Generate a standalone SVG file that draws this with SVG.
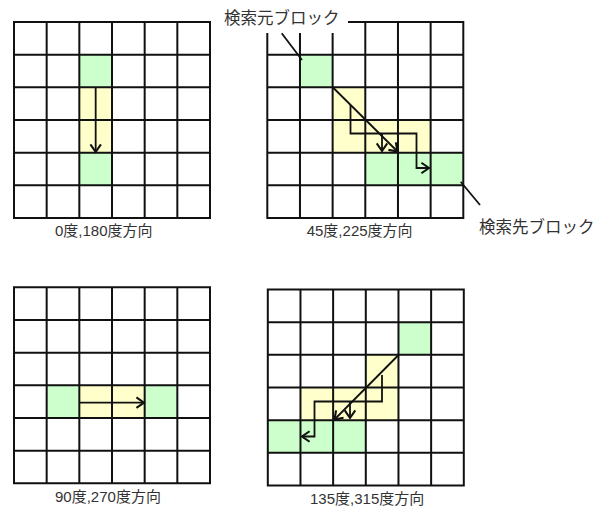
<svg xmlns="http://www.w3.org/2000/svg" width="605" height="518" viewBox="0 0 605 518">
<style>
.grid{fill:none;stroke:#111;stroke-width:2}
.g{fill:#ccffcc}
.y{fill:#ffffcc}
.arr{fill:none;stroke:#111;stroke-width:1.8;marker-end:url(#ah)}
.ptr{fill:none;stroke:#111;stroke-width:1.8}
.cap{font-family:"Liberation Sans","Noto Sans CJK JP",sans-serif;font-size:15px;fill:#333}
.lbl{font-family:"Noto Sans CJK JP","Liberation Sans",sans-serif;font-size:16.5px;fill:#333}
</style>
<defs>
<marker id="ah" markerUnits="userSpaceOnUse" markerWidth="14" markerHeight="14" viewBox="-8 -6 10 12" refX="0" refY="0" orient="auto">
<path d="M-6.5,-4.5 L0,0 L-6.5,4.5" fill="none" stroke="#111" stroke-width="1.8"/>
</marker>
<path id="gridpath" class="grid" d="M0 0H196V196H0Z M32.67 0V196 M65.33 0V196 M98 0V196 M130.67 0V196 M163.33 0V196 M0 32.67H196 M0 65.33H196 M0 98H196 M0 130.67H196 M0 163.33H196"/>
</defs>
<rect width="605" height="518" fill="#fff"/>

<g id="panel-0-180">
<rect class="g" x="79.33" y="54.67" width="32.67" height="32.67"/>
<rect class="y" x="79.33" y="87.33" width="32.67" height="65.33"/>
<rect class="g" x="79.33" y="152.67" width="32.67" height="32.67"/>
<use href="#gridpath" x="14" y="22"/>
<text class="cap" x="55" y="236">0度,180度方向</text>
</g>

<g id="panel-45-225">
<rect class="g" x="300" y="54.67" width="32.67" height="32.67"/>
<rect class="y" x="332.67" y="87.33" width="32.67" height="32.67"/>
<rect class="y" x="332.67" y="120" width="98" height="32.67"/>
<rect class="g" x="365.33" y="152.67" width="98" height="32.67"/>
<use href="#gridpath" x="267.3" y="22"/>
<text class="cap" x="306.7" y="236">45度,225度方向</text>
</g>

<g id="panel-90-270">
<rect class="g" x="46.67" y="385.3" width="32.67" height="32.67"/>
<rect class="y" x="79.33" y="385.3" width="65.33" height="32.67"/>
<rect class="g" x="144.67" y="385.3" width="32.67" height="32.67"/>
<use href="#gridpath" x="14" y="287.3"/>
<text class="cap" x="55" y="502">90度,270度方向</text>
</g>

<g id="panel-135-315">
<rect class="g" x="398.47" y="322.17" width="32.67" height="32.67"/>
<rect class="y" x="365.8" y="354.83" width="32.67" height="32.67"/>
<rect class="y" x="300.47" y="387.5" width="98" height="32.67"/>
<rect class="g" x="267.8" y="420.17" width="98" height="32.67"/>
<use href="#gridpath" x="267.8" y="289.5"/>
<text class="cap" x="310" y="504">135度,315度方向</text>
</g>

<g id="label-source">
<rect x="222" y="0" width="126" height="33" fill="#fff"/>
<text class="lbl" x="224" y="24">検索元ブロック</text>
</g>

<g id="label-dest">
<text class="lbl" x="479" y="233">検索先ブロック</text>
</g>

<g id="connectors">
<path class="arr" d="M95.67 87.5V152"/>
<path class="arr" d="M333 87.5L397.5 151.5"/>
<path class="arr" d="M350.5 105V133.5H416.5V168H429"/>
<path class="arr" d="M382 133.5V151"/>
<path class="arr" d="M80 402.7H144"/>
<path class="arr" d="M398.5 355L334.5 419.5"/>
<path class="arr" d="M382 375V401.5H314.5V436.5H302"/>
<path class="arr" d="M350 401.5V418"/>
<path class="ptr" d="M281.7 33.3L302 60"/>
<path class="ptr" d="M460.7 181.7L480 205"/>
</g>
</svg>
